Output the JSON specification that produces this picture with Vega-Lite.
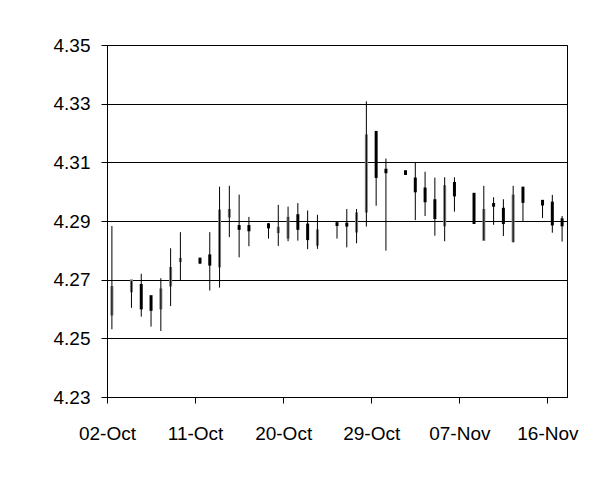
{
  "$schema": "https://vega.github.io/schema/vega-lite/v6.json",
  "width": 460,
  "height": 352,
  "autosize": {"type": "none"},
  "padding": {"left": 107, "top": 45, "right": 42, "bottom": 82},
  "background": "white",
  "config": {"view": {"stroke": "black", "strokeWidth": 1}, "font": "Liberation Sans"},
  "data": {"values": [
    {"date": "1999/10/02", "open": 4.2583, "high": 4.2883, "low": 4.2531, "close": 4.2673},
    {"date": "1999/10/04", "open": 4.2662, "high": 4.2696, "low": 4.2604, "close": 4.2696},
    {"date": "1999/10/05", "open": 4.2680, "high": 4.2720, "low": 4.2574, "close": 4.2604},
    {"date": "1999/10/06", "open": 4.2642, "high": 4.2644, "low": 4.2540, "close": 4.2599},
    {"date": "1999/10/07", "open": 4.2604, "high": 4.2705, "low": 4.2525, "close": 4.2665},
    {"date": "1999/10/08", "open": 4.2682, "high": 4.2807, "low": 4.2610, "close": 4.2738},
    {"date": "1999/10/09", "open": 4.2765, "high": 4.2862, "low": 4.2699, "close": 4.2769},
    {"date": "1999/10/11", "open": 4.2770, "high": 4.2772, "low": 4.2753, "close": 4.2760},
    {"date": "1999/10/12", "open": 4.2781, "high": 4.2862, "low": 4.2663, "close": 4.2753},
    {"date": "1999/10/13", "open": 4.2747, "high": 4.3017, "low": 4.2673, "close": 4.2934},
    {"date": "1999/10/14", "open": 4.2917, "high": 4.3020, "low": 4.2845, "close": 4.2936},
    {"date": "1999/10/15", "open": 4.2881, "high": 4.2990, "low": 4.2776, "close": 4.2875},
    {"date": "1999/10/16", "open": 4.2881, "high": 4.2914, "low": 4.2814, "close": 4.2870},
    {"date": "1999/10/18", "open": 4.2887, "high": 4.2893, "low": 4.2840, "close": 4.2880},
    {"date": "1999/10/19", "open": 4.2864, "high": 4.2955, "low": 4.2815, "close": 4.2875},
    {"date": "1999/10/20", "open": 4.2845, "high": 4.2949, "low": 4.2831, "close": 4.2909},
    {"date": "1999/10/21", "open": 4.2918, "high": 4.2961, "low": 4.2833, "close": 4.2875},
    {"date": "1999/10/22", "open": 4.2886, "high": 4.2936, "low": 4.2804, "close": 4.2840},
    {"date": "1999/10/23", "open": 4.2821, "high": 4.2921, "low": 4.2805, "close": 4.2866},
    {"date": "1999/10/25", "open": 4.2891, "high": 4.2893, "low": 4.2840, "close": 4.2888},
    {"date": "1999/10/26", "open": 4.2889, "high": 4.2941, "low": 4.2810, "close": 4.2886},
    {"date": "1999/10/27", "open": 4.2866, "high": 4.2941, "low": 4.2824, "close": 4.2924},
    {"date": "1999/10/28", "open": 4.2934, "high": 4.3308, "low": 4.2881, "close": 4.3190},
    {"date": "1999/10/29", "open": 4.3202, "high": 4.3202, "low": 4.2952, "close": 4.3052},
    {"date": "1999/10/30", "open": 4.3073, "high": 4.3113, "low": 4.2799, "close": 4.3068},
    {"date": "1999/11/01", "open": 4.3068, "high": 4.3069, "low": 4.3060, "close": 4.3062},
    {"date": "1999/11/02", "open": 4.3043, "high": 4.3101, "low": 4.2903, "close": 4.3003},
    {"date": "1999/11/03", "open": 4.3009, "high": 4.3068, "low": 4.2917, "close": 4.2969},
    {"date": "1999/11/04", "open": 4.2969, "high": 4.3048, "low": 4.2850, "close": 4.2912},
    {"date": "1999/11/05", "open": 4.2887, "high": 4.3049, "low": 4.2831, "close": 4.3017},
    {"date": "1999/11/06", "open": 4.3028, "high": 4.3049, "low": 4.2932, "close": 4.2989},
    {"date": "1999/11/08", "open": 4.2991, "high": 4.2991, "low": 4.2890, "close": 4.2895},
    {"date": "1999/11/09", "open": 4.2837, "high": 4.3020, "low": 4.2835, "close": 4.2936},
    {"date": "1999/11/10", "open": 4.2956, "high": 4.2981, "low": 4.2887, "close": 4.2954},
    {"date": "1999/11/11", "open": 4.2940, "high": 4.2974, "low": 4.2849, "close": 4.2895},
    {"date": "1999/11/12", "open": 4.2833, "high": 4.3020, "low": 4.2827, "close": 4.2985},
    {"date": "1999/11/13", "open": 4.3012, "high": 4.3012, "low": 4.2898, "close": 4.2967},
    {"date": "1999/11/15", "open": 4.2967, "high": 4.2970, "low": 4.2910, "close": 4.2958},
    {"date": "1999/11/16", "open": 4.2961, "high": 4.2989, "low": 4.2860, "close": 4.2890},
    {"date": "1999/11/17", "open": 4.2904, "high": 4.2917, "low": 4.2830, "close": 4.2887}
  ]},
  "encoding": {
    "x": {
      "field": "date",
      "type": "temporal",
      "timeUnit": "yearmonthdate",
      "bandPosition": 0.5,
      "scale": {"domain": [{"year": 1999, "month": 10, "date": 2}, {"year": 1999, "month": 11, "date": 18}], "nice": false},
      "axis": {
        "title": null,
        "format": "%d-%b",
        "values": [
          {"year": 1999, "month": 10, "date": 2},
          {"year": 1999, "month": 10, "date": 11},
          {"year": 1999, "month": 10, "date": 20},
          {"year": 1999, "month": 10, "date": 29},
          {"year": 1999, "month": 11, "date": 7},
          {"year": 1999, "month": 11, "date": 16}
        ],
        "grid": false,
        "tickSize": 6,
        "tickColor": "black",
        "domainColor": "black",
        "labelColor": "black",
        "labelFont": "Liberation Sans",
        "labelFontSize": 19,
        "labelPadding": 21,
        "labelFlush": false,
        "labelOverlap": false
      }
    }
  },
  "layer": [
    {
      "mark": {"type": "rule", "strokeWidth": 3, "strokeCap": "square"},
      "encoding": {
        "y": {
          "field": "open",
          "type": "quantitative",
          "scale": {"domain": [4.23, 4.35], "nice": false, "zero": false},
          "axis": {
            "title": null,
            "values": [4.23, 4.25, 4.27, 4.29, 4.31, 4.33, 4.35],
            "format": ".2f",
            "grid": true,
            "gridColor": "black",
            "gridOpacity": 1,
            "gridWidth": 1,
            "tickSize": 6,
            "tickColor": "black",
            "domainColor": "black",
            "labelColor": "black",
            "labelFont": "Liberation Sans",
            "labelFontSize": 19,
            "labelPadding": 11
          }
        },
        "y2": {"field": "close"},
        "color": {"condition": {"test": "datum.close > datum.open", "value": "#808080"}, "value": "black"}
      }
    },
    {
      "mark": {"type": "rule", "color": "black", "strokeWidth": 1},
      "encoding": {
        "y": {"field": "low", "type": "quantitative"},
        "y2": {"field": "high"}
      }
    }
  ]
}
